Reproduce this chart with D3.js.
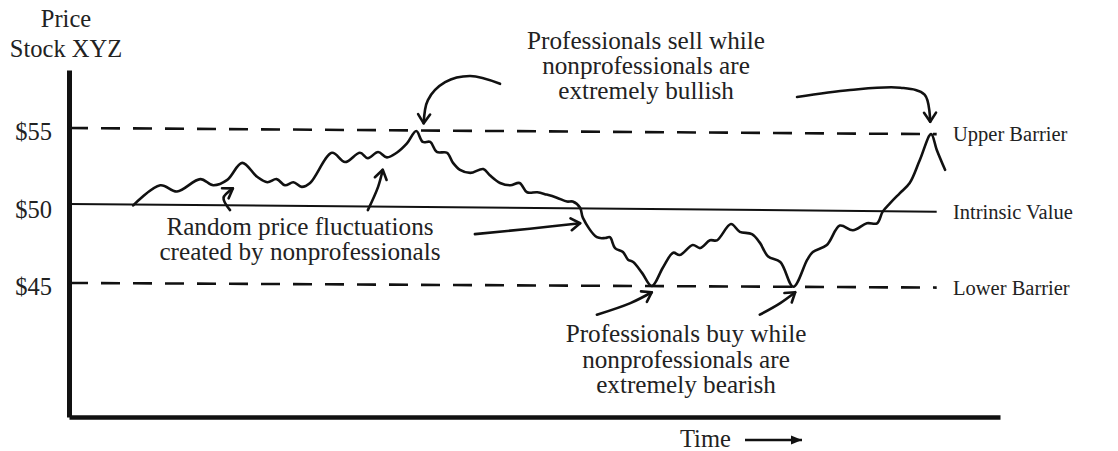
<!DOCTYPE html>
<html>
<head>
<meta charset="utf-8">
<script src="https://cdn.jsdelivr.net/npm/d3@7"></script>
<style>
  body { margin: 0; background: #fff; }
  svg text { font-family: "Liberation Serif", "DejaVu Serif", serif; fill: #222; }
</style>
</head>
<body>
<div id="chart"></div>
<script>
var width = 1118;
var height = 451;

// price path, [time, price]  (time runs 0..100 across the axis)
var pricePath = [
    [6.9, 50.0], [9.8, 51.3], [11.6, 50.9], [14.1, 51.7], [15.5, 51.3], [17.0, 51.65],
    [18.6, 52.75], [20.2, 51.85], [21.3, 51.5], [22.3, 51.7], [23.2, 51.3], [24.1, 51.5],
    [25.0, 51.2], [25.9, 51.45], [28.25, 53.4], [29.65, 52.8], [31.25, 53.4], [32.1, 53.05],
    [33.2, 53.45], [34.15, 53.1], [35.2, 53.4], [36.3, 54.0], [37.3, 54.8], [38.0, 54.1],
    [38.8, 54.1], [39.5, 53.45], [40.6, 53.4], [41.25, 52.75], [42.0, 52.3], [43.1, 52.1],
    [44.5, 52.35], [45.2, 51.95], [46.3, 51.45], [47.4, 51.3], [48.4, 51.45], [49.2, 50.85],
    [50.3, 50.85], [51.3, 50.7], [52.4, 50.5], [53.5, 50.25], [54.1, 50.25], [54.9, 49.85],
    [55.2, 49.2], [56.7, 47.95], [57.6, 47.9], [58.1, 47.95], [58.65, 47.25], [59.5, 47.0],
    [60.05, 46.5], [60.6, 46.35], [61.55, 45.65], [62.6, 44.8], [63.8, 46.0], [64.9, 46.95],
    [65.6, 46.8], [67.0, 47.45], [67.8, 47.25], [68.85, 47.75], [69.6, 47.75], [71.1, 48.8],
    [72.05, 48.3], [73.35, 48.15], [74.2, 47.6], [75.1, 46.7], [76.4, 46.35], [77.8, 44.75],
    [79.3, 46.5], [79.9, 47.0], [81.4, 47.45], [82.8, 48.7], [84.2, 48.4], [85.7, 48.85],
    [86.8, 48.85], [87.4, 49.6], [88.2, 50.15], [89.25, 50.8], [90.3, 51.45], [91.4, 52.95],
    [92.6, 54.6], [93.2, 53.6], [94.1, 52.3]
];

// reference lines, [time, price] at both ends
var upperBarrier = [[0, 55.0], [93.2, 54.6]];
var intrinsicValue = [[0, 50.1], [93.2, 49.6]];
var lowerBarrier = [[0, 45.0], [93.2, 44.7]];

var priceTicks = [45, 50, 55];
var lineLabels = ["Upper Barrier", "Intrinsic Value", "Lower Barrier"];

var yTitle = ["Price", "Stock XYZ"];
var xTitle = "Time";

var sellNote = ["Professionals sell while", "nonprofessionals are", "extremely bullish"];
var buyNote = ["Professionals buy while", "nonprofessionals are", "extremely bearish"];
var randomNote = ["Random price fluctuations", "created by nonprofessionals"];

// hand drawn pointers, [time, price]
var pointers = [
    [[17.3, 49.7], [16.6, 50.5], [17.6, 51.1]],
    [[32.1, 49.7], [33.2, 51.2], [33.7, 52.3]],
    [[43.6, 48.15], [49.5, 48.5], [54.9, 48.85]],
    [[46.3, 57.85], [43.1, 58.35], [40.4, 57.95], [38.55, 56.8], [38.1, 55.3]],
    [[78.2, 57.0], [83.9, 57.45], [89.3, 57.6], [91.9, 57.15], [92.5, 55.4]],
    [[56.7, 42.95], [60.3, 43.7], [62.6, 44.4]],
    [[74.2, 42.95], [76.4, 43.7], [78.0, 44.4]]
];

var x = d3.scaleLinear().domain([0, 100]).range([69, 1000]);
var y = d3.scaleLinear().domain([36.35, 58.74]).range([417, 70]);

var svg = d3.select("#chart").append("svg")
    .attr("width", width)
    .attr("height", height);

var defs = svg.append("defs");
defs.append("marker")
    .attr("id", "vhead")
    .attr("markerUnits", "userSpaceOnUse")
    .attr("viewBox", "-12 -8 14 16")
    .attr("markerWidth", 14).attr("markerHeight", 16)
    .attr("refX", 0).attr("refY", 0)
    .attr("orient", "auto")
    .append("path")
    .attr("d", "M-9,-6 L0,0 L-9,6")
    .attr("fill", "none").attr("stroke", "#111").attr("stroke-width", 2.6)
    .attr("stroke-linecap", "round").attr("stroke-linejoin", "round");
defs.append("marker")
    .attr("id", "solidhead")
    .attr("markerUnits", "userSpaceOnUse")
    .attr("viewBox", "-12 -6 13 12")
    .attr("markerWidth", 13).attr("markerHeight", 12)
    .attr("refX", 0).attr("refY", 0)
    .attr("orient", "auto")
    .append("path")
    .attr("d", "M-11,-4.5 L0,0 L-11,4.5 Z")
    .attr("fill", "#111");

// axes
svg.append("g")
    .attr("transform", "translate(" + x(0) + ",0)")
    .call(d3.axisLeft(y).tickValues(priceTicks).tickSize(0).tickPadding(17)
        .tickFormat(d => "$" + d))
    .call(g => g.select(".domain").attr("stroke", "#111").attr("stroke-width", 5))
    .call(g => g.selectAll("text")
        .attr("dy", "0.48em")
        .style("font-family", "Liberation Serif")
        .style("font-size", "24.5px")
        .attr("fill", "#222"));

svg.append("g")
    .attr("transform", "translate(0," + y(36.35) + ")")
    .call(d3.axisBottom(x).tickValues([]).tickSizeOuter(0))
    .call(g => g.select(".domain").attr("stroke", "#111").attr("stroke-width", 4.5));

// axis titles
svg.append("text")
    .selectAll("tspan")
    .data(yTitle).enter().append("tspan")
    .attr("x", 66)
    .attr("y", (d, i) => 27 + i * 30)
    .attr("text-anchor", "middle")
    .style("font-size", "24.5px")
    .text(d => d);

svg.append("text")
    .attr("x", 680).attr("y", 447)
    .style("font-size", "24.5px")
    .text(xTitle);
svg.append("line")
    .attr("x1", 745).attr("y1", 440).attr("x2", 802).attr("y2", 440)
    .attr("stroke", "#111").attr("stroke-width", 2.4)
    .attr("marker-end", "url(#solidhead)");

// barrier and intrinsic value lines
var refLine = d3.line().x(d => x(d[0])).y(d => y(d[1]));
svg.append("path").datum(upperBarrier)
    .attr("d", refLine).attr("fill", "none")
    .attr("stroke", "#111").attr("stroke-width", 2.6).attr("stroke-dasharray", "19,13");
svg.append("path").datum(lowerBarrier)
    .attr("d", refLine).attr("fill", "none")
    .attr("stroke", "#111").attr("stroke-width", 2.6).attr("stroke-dasharray", "19,13");
svg.append("path").datum(intrinsicValue)
    .attr("d", refLine).attr("fill", "none")
    .attr("stroke", "#111").attr("stroke-width", 2);

// line labels at the right
svg.selectAll("text.linelabel")
    .data([upperBarrier, intrinsicValue, lowerBarrier]).enter().append("text")
    .attr("class", "linelabel")
    .attr("x", 953)
    .attr("y", d => y(d[1][1]) + 7)
    .style("font-size", "20.5px")
    .text((d, i) => lineLabels[i]);

// the price itself
svg.append("path").datum(pricePath)
    .attr("d", d3.line().x(d => x(d[0])).y(d => y(d[1])).curve(d3.curveCatmullRom.alpha(0.5)))
    .attr("fill", "none")
    .attr("stroke", "#111").attr("stroke-width", 2.6)
    .attr("stroke-linejoin", "round").attr("stroke-linecap", "round");

// pointers
var curvy = d3.line().x(d => x(d[0])).y(d => y(d[1])).curve(d3.curveCatmullRom.alpha(0.5));
svg.selectAll("path.pointer")
    .data(pointers).enter().append("path")
    .attr("class", "pointer")
    .attr("d", curvy)
    .attr("fill", "none")
    .attr("stroke", "#111").attr("stroke-width", 2.6)
    .attr("stroke-linecap", "round")
    .attr("marker-end", "url(#vhead)");

// notes
function note(lines, cx, top, lh) {
    svg.append("text")
        .attr("text-anchor", "middle")
        .style("font-size", "25.2px")
        .selectAll("tspan")
        .data(lines).enter().append("tspan")
        .attr("x", cx)
        .attr("y", (d, i) => top + i * lh)
        .text(d => d);
}
note(sellNote, 646, 49, 25);
note(randomNote, 300, 235, 25);
note(buyNote, 686, 342, 25.5);
</script>
</body>
</html>
